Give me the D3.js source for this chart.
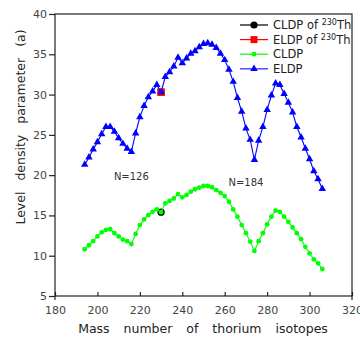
<!DOCTYPE html>
<html>
<head>
<meta charset="utf-8">
<script src="https://cdn.jsdelivr.net/npm/d3@7"></script>
<style>
  body { margin: 0; background: #fff; }
  text { font-family: "DejaVu Sans", sans-serif; }
</style>
</head>
<body>
<div id="viz"></div>
<script>
// mass numbers of thorium isotopes (every second one)
const masses = d3.range(194, 307, 2);

const cldp = [10.8, 11.3, 11.8, 12.4, 12.9, 13.2, 13.3, 12.8, 12.4, 12.0, 11.8, 11.45,
  12.7, 13.8, 14.5, 15.05, 15.45, 15.75, 15.4, 16.5, 16.8, 17.1, 17.65, 17.25, 17.55,
  17.95, 18.25, 18.45, 18.65, 18.65, 18.5, 18.15, 17.8, 17.4, 16.7, 15.75, 14.85,
  13.8, 12.8, 11.75, 10.6, 11.8, 12.8, 13.9, 14.85, 15.6, 15.45, 14.85, 14.2, 13.5,
  12.8, 12.05, 11.1, 10.3, 9.55, 9.05, 8.35];

const eldp = [21.3, 22.2, 23.2, 24.1, 25.1, 26.0, 26.0, 25.4, 24.6, 23.9, 23.3, 22.9,
  25.2, 27.2, 28.6, 29.7, 30.4, 31.2, 30.3, 32.2, 32.8, 33.5, 34.6, 33.9, 34.5,
  35.1, 35.4, 35.9, 36.3, 36.4, 36.2, 35.8, 35.1, 34.3, 33.1, 31.6, 29.6, 27.9,
  25.8, 24.4, 21.9, 24.3, 26.0, 28.1, 29.9, 31.4, 31.2, 30.1, 29.0, 27.8, 26.0,
  24.7, 23.3, 22.0, 20.5, 19.5, 18.3];

// single values for 230Th
const th230 = { mass: 230, cldp: 15.4, eldp: 30.3 };

const xTicks = d3.range(180, 321, 20);
const yTicks = d3.range(5, 41, 5);

const notes = [
  { text: "N=126", mass: 216, value: 19.4 },
  { text: "N=184", mass: 270, value: 18.7 }
];

const W = 360, H = 338;
const m = { left: 55, right: 352, top: 14, bottom: 296 };

const svg = d3.select("#viz").append("svg")
  .attr("width", W).attr("height", H);

const x = d3.scaleLinear().domain([180, 320]).range([m.left, m.right]);
const y = d3.scaleLinear().domain([5, 40]).range([m.bottom, m.top]);

// frame
svg.append("rect")
  .attr("x", m.left).attr("y", m.top)
  .attr("width", m.right - m.left).attr("height", m.bottom - m.top)
  .attr("fill", "none").attr("stroke", "#222").attr("stroke-width", 1.2);
// frame sides stick out below the bottom line
svg.append("g").selectAll("line")
  .data([m.left, m.right]).enter().append("line")
  .attr("x1", d => d).attr("x2", d => d)
  .attr("y1", m.bottom).attr("y2", m.bottom + 4)
  .attr("stroke", "#222").attr("stroke-width", 1.2);

// X axis: ticks inward
const xAxis = svg.append("g")
  .attr("transform", "translate(0," + m.bottom + ")")
  .call(d3.axisBottom(x).tickValues(xTicks).tickSizeInner(-4).tickSizeOuter(0).tickPadding(10));
xAxis.select(".domain").remove();
xAxis.selectAll("line").attr("stroke", "#222").attr("stroke-width", 1.2);
xAxis.selectAll("text").attr("font-size", 11).attr("fill", "#444")
  .attr("font-family", "DejaVu Sans");

// Y axis: ticks outward
const yAxis = svg.append("g")
  .attr("transform", "translate(" + m.left + ",0)")
  .call(d3.axisLeft(y).tickValues(yTicks).tickSizeInner(6).tickSizeOuter(0).tickPadding(2));
yAxis.select(".domain").remove();
yAxis.selectAll("line").attr("stroke", "#222").attr("stroke-width", 1.2);
yAxis.selectAll("text").attr("font-size", 11).attr("fill", "#444")
  .attr("font-family", "DejaVu Sans");

// axis titles
svg.append("text")
  .attr("x", 203).attr("y", 333)
  .attr("text-anchor", "middle").attr("font-size", 12.5).attr("fill", "#222")
  .style("word-spacing", "10px")
  .text("Mass number of thorium isotopes");

svg.append("text")
  .attr("transform", "translate(25,127) rotate(-90)")
  .attr("text-anchor", "middle").attr("font-size", 12.5).attr("fill", "#222")
  .style("word-spacing", "7px")
  .text("Level density parameter (a)");

const line = d3.line().x(d => x(d[0])).y(d => y(d[1]));

// 230Th points drawn first so the series markers sit on top
svg.append("circle")
  .attr("cx", x(th230.mass)).attr("cy", y(th230.cldp)).attr("r", 3.6)
  .attr("fill", "#000");
svg.append("rect")
  .attr("x", x(th230.mass) - 3.8).attr("y", y(th230.eldp) - 3.8)
  .attr("width", 7.6).attr("height", 7.6).attr("fill", "#ff0000");

const greenPts = masses.map((a, i) => [a, cldp[i]]);
const bluePts = masses.map((a, i) => [a, eldp[i]]);

svg.append("path").datum(greenPts)
  .attr("d", line).attr("fill", "none").attr("stroke", "#00ff00").attr("stroke-width", 1.1);
svg.append("g").selectAll("circle").data(greenPts).enter().append("circle")
  .attr("cx", d => x(d[0])).attr("cy", d => y(d[1])).attr("r", 2.4)
  .attr("fill", "#00ff00");

const tri = d3.symbol().type(d3.symbolTriangle).size(24);
svg.append("path").datum(bluePts)
  .attr("d", line).attr("fill", "none").attr("stroke", "#0000ff").attr("stroke-width", 1.1);
svg.append("g").selectAll("path").data(bluePts).enter().append("path")
  .attr("d", tri)
  .attr("transform", d => "translate(" + x(d[0]) + "," + y(d[1]) + ")")
  .attr("fill", "#0000ff");

// annotations
svg.append("g").selectAll("text").data(notes).enter().append("text")
  .attr("x", d => x(d.mass)).attr("y", d => y(d.value))
  .attr("text-anchor", "middle").attr("font-size", 10).attr("fill", "#333")
  .text(d => d.text);

// legend
const legendItems = [
  { name: "CLDP of ", sup: "230", tail: "Th", color: "#000", mark: "circle" },
  { name: "ELDP of ", sup: "230", tail: "Th", color: "#ff0000", mark: "square" },
  { name: "CLDP", color: "#00ff00", mark: "dot" },
  { name: "ELDP", color: "#0000ff", mark: "triangle" }
];
const lg = svg.append("g").selectAll("g").data(legendItems).enter().append("g")
  .attr("transform", (d, i) => "translate(240," + (25 + i * 14.6) + ")");
lg.append("line")
  .attr("x1", 0).attr("x2", 28).attr("y1", 0).attr("y2", 0)
  .attr("stroke", d => d.color).attr("stroke-width", d => d.mark === "triangle" ? 1.6 : 1.2)
  .attr("stroke-opacity", d => d.mark === "triangle" ? 0.65 : 1);
lg.each(function (d) {
  const g = d3.select(this);
  if (d.mark === "circle") g.append("circle").attr("cx", 14).attr("r", 3.6).attr("fill", d.color);
  if (d.mark === "square") g.append("rect").attr("x", 10.5).attr("y", -3.5).attr("width", 7).attr("height", 7).attr("fill", d.color);
  if (d.mark === "dot") g.append("circle").attr("cx", 14).attr("r", 2.4).attr("fill", d.color);
  if (d.mark === "triangle") g.append("path").attr("d", tri).attr("transform", "translate(14,0)").attr("fill", d.color);
});
const lt = lg.append("text")
  .attr("x", 33).attr("y", 4).attr("font-size", 11.5).attr("fill", "#222");
lt.append("tspan").text(d => d.name);
lt.filter(d => d.sup).append("tspan")
  .attr("font-size", 8).attr("dy", -4).text(d => d.sup);
lt.filter(d => d.sup).append("tspan")
  .attr("dy", 4).text(d => d.tail);
</script>
</body>
</html>
